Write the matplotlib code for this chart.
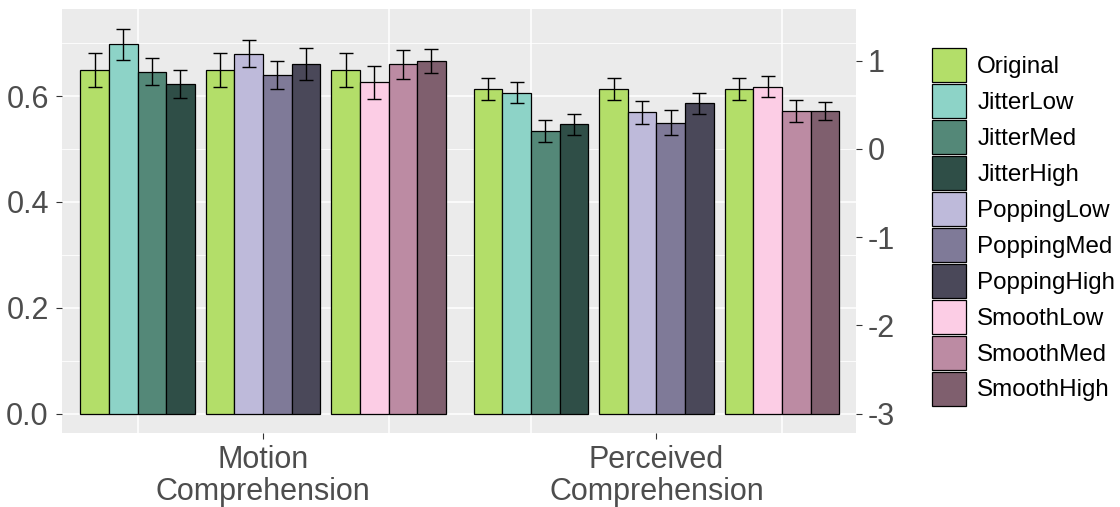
import matplotlib.pyplot as plt
from matplotlib.patches import Patch

plt.rcParams['font.family'] = ['Liberation Sans', 'DejaVu Sans']

# data
metrics = ['Motion\nComprehension', 'Perceived\nComprehension']
conditions = ['Original', 'JitterLow', 'JitterMed', 'JitterHigh',
              'PoppingLow', 'PoppingMed', 'PoppingHigh',
              'SmoothLow', 'SmoothMed', 'SmoothHigh']
subgroups = [['Original', 'JitterLow', 'JitterMed', 'JitterHigh'],
             ['Original', 'PoppingLow', 'PoppingMed', 'PoppingHigh'],
             ['Original', 'SmoothLow', 'SmoothMed', 'SmoothHigh']]
colors = ['#B3DE69', '#8DD3C7', '#548878', '#2F4E47',
          '#BEBADA', '#7F7A98', '#4A4859',
          '#FCCDE5', '#BC8BA3', '#7F5F6E']

motion_mean = [0.649, 0.698, 0.646, 0.623, 0.649, 0.680, 0.640, 0.661, 0.649, 0.626, 0.660, 0.666]
motion_se = [0.032, 0.029, 0.026, 0.027, 0.032, 0.025, 0.027, 0.030, 0.032, 0.031, 0.027, 0.0225]
perceived_mean = [0.614, 0.606, 0.534, 0.547, 0.614, 0.569, 0.550, 0.586, 0.614, 0.618, 0.572, 0.572]
perceived_se = [0.021, 0.020, 0.021, 0.020, 0.021, 0.021, 0.023, 0.020, 0.021, 0.020, 0.021, 0.017]

means = [motion_mean, perceived_mean]
ses = [motion_se, perceived_se]
color_of = dict(zip(conditions, colors))

# layout
group_step = 3.135
bar_w = 0.228

fig = plt.figure(figsize=(11.2, 5.07), dpi=100)
ax = fig.add_axes([62 / 1120, 1 - 433 / 507, (856 - 62) / 1120, (433 - 9) / 507])
ax.set_facecolor('#EBEBEB')
for s in ax.spines.values():
    s.set_visible(False)

centers = []
for g in range(len(metrics)):
    for s, sub in enumerate(subgroups):
        c = g * group_step + s
        centers.append(c)
        for k, cond in enumerate(sub):
            i = s * 4 + k
            x = c + (k - 1.5) * bar_w
            ax.bar(x, means[g][i], width=bar_w, color=color_of[cond],
                   edgecolor='black', linewidth=0.9, zorder=3)
            ax.errorbar(x, means[g][i], yerr=ses[g][i], color='black',
                        capsize=5, elinewidth=1.0, capthick=1.0, zorder=4)

ax.set_xlim(-0.602, 5.725)
ax.set_ylim(-0.0364, 0.7644)
ax.set_yticks([0.0, 0.2, 0.4, 0.6])
ax.set_yticklabels(['0.0', '0.2', '0.4', '0.6'])
ax.set_yticks([0.1, 0.3, 0.5, 0.7], minor=True)
ax.set_xticks([1, 1 + group_step])
ax.set_xticklabels(metrics, linespacing=1.1)
ax.set_xticks(centers, minor=True)
ax.grid(which='major', axis='y', color='white', linewidth=1.1, zorder=0)
ax.grid(which='minor', axis='y', color='white', linewidth=0.6, zorder=0)
ax.grid(which='minor', axis='x', color='white', linewidth=1.1, zorder=0)
ax.set_axisbelow(True)
ax.tick_params(which='major', length=4.5, width=0.8, color='#333333',
               labelsize=22, labelcolor='#4D4D4D')
ax.tick_params(axis='x', which='major', pad=4)
ax.tick_params(axis='y', which='major', pad=5)
ax.tick_params(which='minor', length=0)

sec = ax.secondary_yaxis('right', functions=(lambda v: 6 * v - 3, lambda r: (r + 3) / 6))
sec.set_yticks([-3, -2, -1, 0, 1])
sec.set_yticklabels(['-3', '-2', '-1', '0', '1'])
for s in sec.spines.values():
    s.set_visible(False)
sec.tick_params(length=4.5, width=0.8, color='#333333',
                labelsize=22, labelcolor='#4D4D4D', pad=4)

handles = [Patch(facecolor=c, edgecolor='black', linewidth=0.9) for c in colors]
fig.legend(handles, conditions, loc='upper left',
           bbox_to_anchor=(932 / 1120, 1 - 48 / 507), frameon=False,
           fontsize=17.4, handlelength=1.405, handleheight=1.785,
           labelspacing=0.083, handletextpad=0.47, borderpad=0, borderaxespad=0)

plt.savefig('out.png', dpi=100)
